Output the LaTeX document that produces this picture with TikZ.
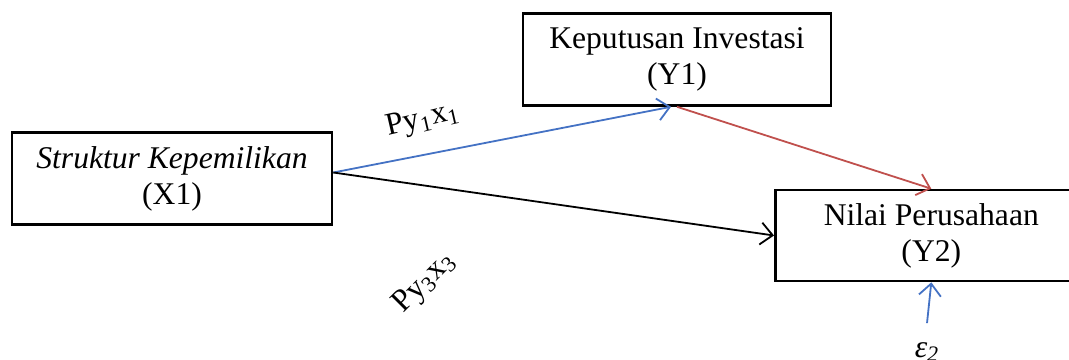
\documentclass[tikz,border=0pt]{standalone}
\usepackage{fontspec}
\setmainfont{Liberation Serif}
\usetikzlibrary{arrows.meta, positioning}
\definecolor{pathblue}{RGB}{68,114,196}
\definecolor{pathred}{RGB}{192,80,77}

\begin{document}
\begin{tikzpicture}[x=0.5pt, y=-0.5pt,
  box/.style={rectangle, draw=black, line width=1.3pt, fill=white,
              align=center, minimum height=46pt, inner sep=0pt,
              font=\fontsize{15.8}{18}\selectfont},
  arrow/.style={-{Straight Barb[length=6pt,width=11pt]}, line width=0.9pt},
  coef/.style={font=\fontsize{15.8}{18}\selectfont}
]
  \useasboundingbox (0,0) rectangle (1069,359);

  \node[box, minimum width=160pt] (x1) at (172,178.5) {\textit{Struktur Kepemilikan}\\(X1)};
  \node[box, minimum width=154pt] (y1) at (677,59.5) {Keputusan Investasi\\(Y1)};
  \node[box, minimum width=156pt, minimum height=45.5pt, anchor=west] (y2) at (774,235.5) {Nilai Perusahaan\\(Y2)};

  \draw[arrow, pathblue] ([yshift=3pt]x1.east) -- ([xshift=-3pt]y1.south);
  \draw[arrow, pathred] (y1.south) -- (y2.north);
  \draw[arrow, black] ([yshift=3pt]x1.east) -- (y2.west);

  % path coefficients
  \node[coef, rotate=13] (p11) at (423,120) {Py\textsubscript{1}x\textsubscript{1}};
  \node[coef, rotate=45] (p33) at (425,283) {Py\textsubscript{3}x\textsubscript{3}};

  % error term
  \node[coef, font=\fontsize{15.8}{18}\selectfont\itshape] (e2) at (927,352) {ε\textsubscript{2}};
  \draw[arrow, pathblue] ([yshift=6pt]e2.north) -- (y2.south);
\end{tikzpicture}
\end{document}
